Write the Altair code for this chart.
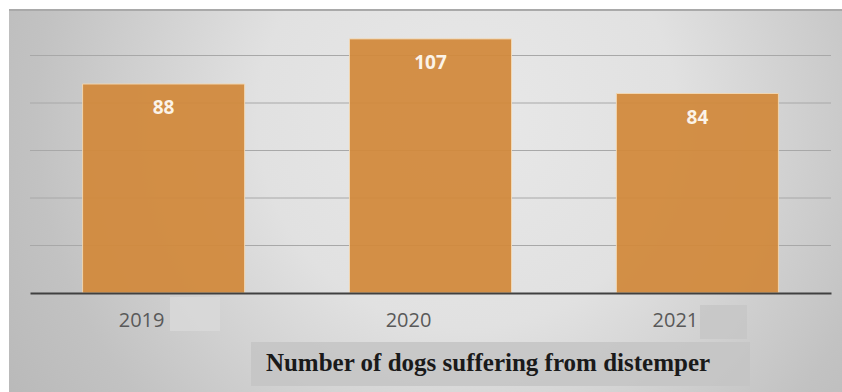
import altair as alt
import pandas as pd

years = ["2019", "2020", "2021"]
dogs = [88, 107, 84]
grid_values = [20, 40, 60, 80, 100]
title_text = "Number of dogs suffering from distemper"

bars_df = pd.DataFrame({"year": years, "dogs": dogs})
grid_df = pd.DataFrame({"v": grid_values})

W, H = 801, 285
ysc = alt.Scale(domain=[0, 120], nice=False)
xsc = alt.Scale(domain=years, paddingInner=0.393, paddingOuter=0.197)

one = alt.Data(values=[{}])

bg = alt.Chart(one).mark_rect(
    fill={
        "gradient": "radial",
        "x1": 0.55, "y1": 0.4, "r1": 0,
        "x2": 0.55, "y2": 0.4, "r2": 0.72,
        "stops": [
            {"offset": 0, "color": "#e8e8e8"},
            {"offset": 0.35, "color": "#e1e1e1"},
            {"offset": 0.72, "color": "#c2c2c2"},
            {"offset": 1, "color": "#b4b4b4"},
        ],
    }
).encode(x=alt.value(-21), x2=alt.value(812), y=alt.value(2), y2=alt.value(384))

topline = alt.Chart(one).mark_rule(color="#a9a9a9", strokeWidth=2).encode(
    x=alt.value(-21), x2=alt.value(812), y=alt.value(2)
)

patch1 = alt.Chart(one).mark_rect(fill="#dadada", opacity=0.8).encode(
    x=alt.value(140), x2=alt.value(190), y=alt.value(289), y2=alt.value(323)
)
patch2 = alt.Chart(one).mark_rect(fill="#c6c6c6", opacity=0.8).encode(
    x=alt.value(670), x2=alt.value(717), y=alt.value(297), y2=alt.value(331)
)
title_box = alt.Chart(one).mark_rect(fill="#c4c4c4", opacity=0.85).encode(
    x=alt.value(221), x2=alt.value(720), y=alt.value(334), y2=alt.value(378)
)
title = alt.Chart(one).mark_text(
    text=title_text, font="Liberation Serif", fontWeight="bold", fontSize=25,
    color="#1a1a1a", align="center", baseline="middle"
).encode(x=alt.value(458), y=alt.value(355))

grid = alt.Chart(grid_df).mark_rule(color="#a8a8a8", strokeWidth=1).encode(
    y=alt.Y("v:Q", scale=ysc, axis=None)
)

bars = alt.Chart(bars_df).mark_bar(
    color="#d2893b", opacity=0.93, stroke="#f3d6ae", strokeWidth=1
).encode(
    x=alt.X("year:N", scale=xsc, sort=years,
            axis=alt.Axis(title=None, labelAngle=0, ticks=False, domainColor="#404040",
                          domainWidth=2, labelColor="#595959", labelFontSize=20,
                          labelFont="Open Sans", labelPadding=17, labelOffset=-22,
                          zindex=1)),
    y=alt.Y("dogs:Q", scale=ysc, axis=None),
)

labels = alt.Chart(bars_df).mark_text(
    font="Open Sans", fontWeight="bold", fontSize=19, color="#fbf3e8",
    baseline="middle", dy=24
).encode(
    x=alt.X("year:N", scale=xsc, sort=years),
    y=alt.Y("dogs:Q", scale=ysc),
    text="dogs:Q",
)

chart = alt.layer(bg, topline, patch1, patch2, title_box, title, grid, bars, labels).properties(
    width=W, height=H,
    padding={"left": 30, "top": 8, "right": 11, "bottom": 99},
    autosize=alt.AutoSizeParams(type="none"),
    background="white",
).configure_view(stroke=None)

chart.save("out.html", embed_options={"renderer": "svg", "actions": False})
